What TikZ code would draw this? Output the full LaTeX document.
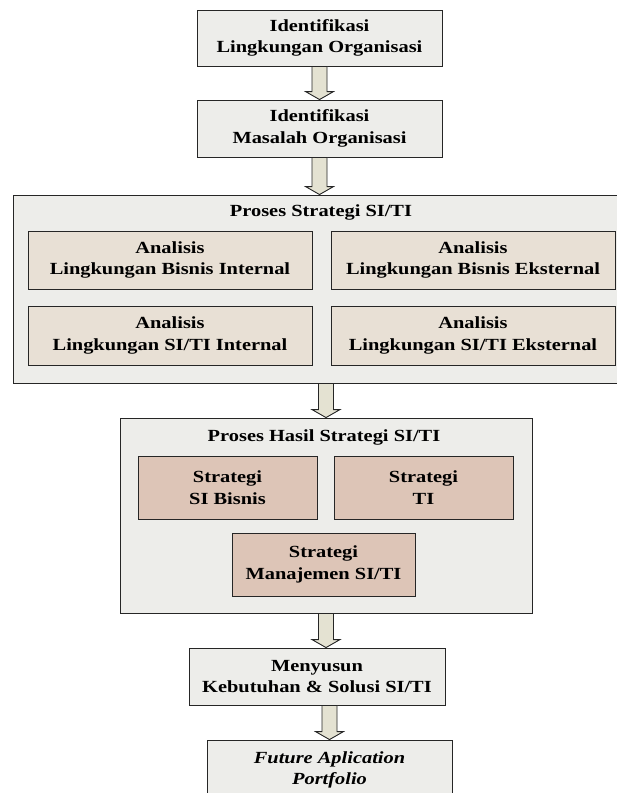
\documentclass[tikz,border=0pt]{standalone}
\usepackage{fontspec}
\setmainfont{Liberation Serif}[FakeStretch=1.2]
\usetikzlibrary{calc,shadows}

\definecolor{boxgray}{HTML}{EDEDEA}
\definecolor{analisisfill}{HTML}{E8E0D5}
\definecolor{strategifill}{HTML}{DDC5B7}
\definecolor{arrowfill}{HTML}{E4E2D2}
\definecolor{edge}{HTML}{262626}

\tikzset{
  base/.style={draw=edge, line width=0.9pt, align=center, inner sep=0pt,
    font=\fontsize{17}{21.5}\selectfont\bfseries,
    drop shadow={shadow xshift=1.4pt, shadow yshift=-1.4pt, fill=black!70, opacity=0.6}},
  stepbox/.style={base, fill=boxgray, minimum width=#1},
  groupbox/.style={draw=edge, line width=0.9pt, fill=boxgray, inner sep=0pt},
  analisisbox/.style={base, fill=analisisfill, minimum width=284pt, minimum height=58pt},
  strategibox/.style={base, fill=strategifill, minimum height=63pt},
  grouptitle/.style={font=\fontsize{17}{21.5}\selectfont\bfseries, inner sep=0pt},
  blk/.style={draw=edge, line width=0.9pt, fill=arrowfill, line join=miter}
}

% hollow block arrow from the bottom of #1 to the top of #2, centred on the x of #3
\newcommand\blkarrow[3]{%
  \draw[blk] let \p1=(#1.south), \p2=(#2.north), \p3=(#3) in
    (\x3-7.5pt,\y1) -- (\x3+7.5pt,\y1) -- (\x3+7.5pt,\y2+8pt) --
    (\x3+14pt,\y2+8pt) -- (\x3,\y2) -- (\x3-14pt,\y2+8pt) --
    (\x3-7.5pt,\y2+8pt) -- cycle;}

\begin{document}
\begin{tikzpicture}[x=1pt, y=-1pt]
\useasboundingbox[fill=white] (0,0) rectangle (617,793);

% first two steps
\node[stepbox=245pt, minimum height=56pt] (lingkungan) at (319.5,38)
  {Identifikasi\\Lingkungan Organisasi};
\node[stepbox=245pt, minimum height=57pt] (masalah) at (319.5,128.5)
  {Identifikasi\\Masalah Organisasi};

% strategy process group
\node[groupbox, minimum width=607pt, minimum height=188pt] (proses) at (316.5,289) {};
\node[grouptitle] (prosestitle) at (321,212) {Proses Strategi SI/TI};
\node[analisisbox] (bisint) at (170,260) {Analisis\\Lingkungan Bisnis Internal};
\node[analisisbox] (bisext) at (473,260) {Analisis\\Lingkungan Bisnis Eksternal};
\node[analisisbox, minimum height=59pt] (siint) at (170,335.5) {Analisis\\Lingkungan SI/TI Internal};
\node[analisisbox, minimum height=59pt] (siext) at (473,335.5) {Analisis\\Lingkungan SI/TI Eksternal};

% strategy result group
\node[groupbox, minimum width=412pt, minimum height=195pt] (hasil) at (326,515.5) {};
\node[grouptitle] (hasiltitle) at (324,437) {Proses Hasil Strategi SI/TI};
\node[strategibox, minimum width=179pt] (sibisnis) at (227.5,487.5) {Strategi\\SI Bisnis};
\node[strategibox, minimum width=179pt] (stti) at (423.5,487.5) {Strategi\\TI};
\node[strategibox, minimum width=183pt] (manajemen) at (323.5,564.5) {Strategi\\Manajemen SI/TI};

% last two steps
\node[stepbox=256pt, minimum height=57pt] (kebutuhan) at (317,676.5)
  {Menyusun\\Kebutuhan \& Solusi SI/TI};
\node[stepbox=245pt, minimum height=60pt] (portfolio) at (329.5,770)
  {\itshape Future Aplication\\\itshape Portfolio};

% connectors
\blkarrow{lingkungan}{masalah}{masalah}
\blkarrow{masalah}{proses}{masalah}
\blkarrow{proses}{hasil}{hasil}
\blkarrow{hasil}{kebutuhan}{hasil}
\blkarrow{kebutuhan}{portfolio}{portfolio}
\end{tikzpicture}
\end{document}
